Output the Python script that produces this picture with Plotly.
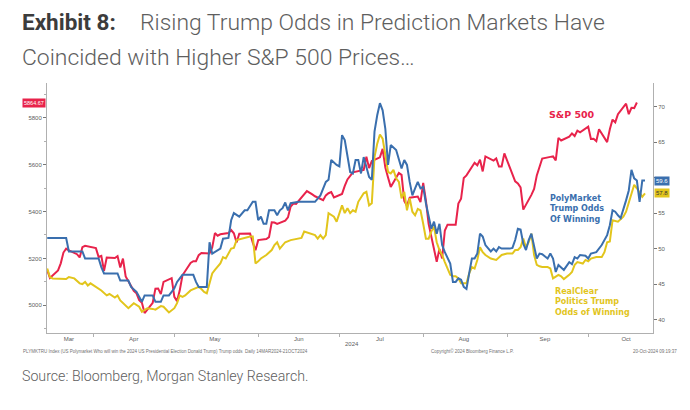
import plotly.graph_objects as go
import pandas as pd

# ---------------- data ----------------
sp_dates = [
    "2024-03-14","2024-03-15","2024-03-18","2024-03-19","2024-03-20","2024-03-21","2024-03-22","2024-03-25","2024-03-26","2024-03-27","2024-03-28",
    "2024-04-01","2024-04-02","2024-04-03","2024-04-04","2024-04-05","2024-04-08","2024-04-09","2024-04-10","2024-04-11","2024-04-12",
    "2024-04-15","2024-04-16","2024-04-17","2024-04-18","2024-04-19","2024-04-22","2024-04-23","2024-04-24","2024-04-25","2024-04-26",
    "2024-04-29","2024-04-30","2024-05-01","2024-05-02","2024-05-03","2024-05-06","2024-05-07","2024-05-08","2024-05-09","2024-05-10",
    "2024-05-13","2024-05-14","2024-05-15","2024-05-16","2024-05-17","2024-05-20","2024-05-21","2024-05-22","2024-05-23","2024-05-24",
    "2024-05-28","2024-05-29","2024-05-30","2024-05-31","2024-06-03","2024-06-04","2024-06-05","2024-06-06","2024-06-07",
    "2024-06-10","2024-06-11","2024-06-12","2024-06-13","2024-06-14","2024-06-17","2024-06-18","2024-06-20","2024-06-21",
    "2024-06-24","2024-06-25","2024-06-26","2024-06-27","2024-06-28","2024-07-01","2024-07-02","2024-07-03","2024-07-05",
    "2024-07-08","2024-07-09","2024-07-10","2024-07-11","2024-07-12","2024-07-15","2024-07-16","2024-07-17","2024-07-18","2024-07-19",
    "2024-07-22","2024-07-23","2024-07-24","2024-07-25","2024-07-26","2024-07-29","2024-07-30","2024-07-31","2024-08-01","2024-08-02",
    "2024-08-05","2024-08-06","2024-08-07","2024-08-08","2024-08-09","2024-08-12","2024-08-13","2024-08-14","2024-08-15","2024-08-16",
    "2024-08-19","2024-08-20","2024-08-21","2024-08-22","2024-08-23","2024-08-26","2024-08-27","2024-08-28","2024-08-29","2024-08-30",
    "2024-09-03","2024-09-04","2024-09-05","2024-09-06","2024-09-09","2024-09-10","2024-09-11","2024-09-12","2024-09-13",
    "2024-09-16","2024-09-17","2024-09-18","2024-09-19","2024-09-20","2024-09-23","2024-09-24","2024-09-25","2024-09-26","2024-09-27",
    "2024-09-30","2024-10-01","2024-10-02","2024-10-03","2024-10-04","2024-10-07","2024-10-08","2024-10-09","2024-10-10","2024-10-11",
    "2024-10-14","2024-10-15","2024-10-16","2024-10-17","2024-10-18",
]
sp_values = [
    5150, 5117, 5149, 5179, 5225, 5242, 5234, 5218, 5204, 5248, 5254,
    5244, 5206, 5211, 5147, 5204, 5202, 5210, 5161, 5199, 5123,
    5062, 5051, 5022, 5011, 4967, 5011, 5071, 5072, 5048, 5100,
    5116, 5036, 5018, 5064, 5128, 5181, 5188, 5188, 5214, 5223,
    5221, 5247, 5308, 5297, 5303, 5308, 5321, 5307, 5268, 5305,
    5306, 5267, 5235, 5278, 5283, 5291, 5354, 5353, 5347,
    5361, 5375, 5421, 5434, 5432, 5473, 5487, 5473, 5465,
    5448, 5469, 5478, 5483, 5460, 5475, 5509, 5537, 5567,
    5573, 5577, 5634, 5585, 5615, 5631, 5667, 5588, 5545, 5505,
    5564, 5556, 5445, 5425, 5459, 5464, 5440, 5522, 5447, 5347,
    5186, 5240, 5200, 5319, 5344, 5344, 5434, 5455, 5543, 5554,
    5608, 5597, 5621, 5571, 5635, 5617, 5626, 5592, 5592, 5648,
    5529, 5520, 5503, 5408, 5471, 5496, 5554, 5596, 5626,
    5633, 5635, 5618, 5714, 5703, 5719, 5733, 5722, 5745, 5738,
    5762, 5709, 5710, 5700, 5751, 5696, 5751, 5792, 5780, 5815,
    5860, 5815, 5842, 5841, 5864.67,
]

poly_dates = [
    "2024-03-14","2024-03-21","2024-03-22","2024-03-27","2024-03-28","2024-04-02","2024-04-03","2024-04-04","2024-04-09","2024-04-10",
    "2024-04-13","2024-04-14","2024-04-16","2024-04-18","2024-04-19","2024-04-22","2024-04-23","2024-04-25","2024-04-26","2024-04-28",
    "2024-04-30","2024-05-01","2024-05-03","2024-05-07","2024-05-08","2024-05-09","2024-05-12","2024-05-13","2024-05-14","2024-05-17",
    "2024-05-18","2024-05-20","2024-05-21","2024-05-22","2024-05-24","2024-05-26","2024-05-27","2024-05-29","2024-05-30","2024-05-31",
    "2024-06-01","2024-06-02","2024-06-03","2024-06-04","2024-06-06","2024-06-07","2024-06-08","2024-06-09","2024-06-10","2024-06-11",
    "2024-06-12","2024-06-15","2024-06-21","2024-06-23","2024-06-25","2024-06-26","2024-06-27","2024-06-29","2024-06-30","2024-07-01",
    "2024-07-02","2024-07-03","2024-07-04","2024-07-05","2024-07-06","2024-07-07","2024-07-08","2024-07-09","2024-07-10","2024-07-11",
    "2024-07-12","2024-07-13","2024-07-14","2024-07-15","2024-07-16","2024-07-17","2024-07-18","2024-07-19","2024-07-21","2024-07-22",
    "2024-07-23","2024-07-24","2024-07-25","2024-07-26","2024-07-27","2024-07-28","2024-07-29","2024-07-30","2024-07-31","2024-08-01",
    "2024-08-02","2024-08-03","2024-08-04","2024-08-05","2024-08-06","2024-08-07","2024-08-08","2024-08-09","2024-08-10","2024-08-11",
    "2024-08-12","2024-08-13","2024-08-14","2024-08-15","2024-08-16","2024-08-17","2024-08-18","2024-08-19","2024-08-20","2024-08-21",
    "2024-08-22","2024-08-23","2024-08-25","2024-08-26","2024-08-27","2024-08-28","2024-08-29","2024-09-01","2024-09-02","2024-09-03",
    "2024-09-04","2024-09-05","2024-09-06","2024-09-07","2024-09-08","2024-09-09","2024-09-10","2024-09-11","2024-09-12","2024-09-13",
    "2024-09-15","2024-09-16","2024-09-17","2024-09-18","2024-09-19","2024-09-20","2024-09-21","2024-09-23","2024-09-24","2024-09-25",
    "2024-09-26","2024-09-27","2024-09-29","2024-09-30","2024-10-01","2024-10-03","2024-10-05","2024-10-07","2024-10-08","2024-10-09",
    "2024-10-10","2024-10-11","2024-10-12","2024-10-14","2024-10-15","2024-10-16","2024-10-17","2024-10-18","2024-10-19","2024-10-20",
    "2024-10-21",
]
poly_values = [
    51.5, 51.5, 49.6, 49.6, 48.6, 48.6, 47.4, 46.5, 46.5, 45.5,
    45.5, 44.6, 43.9, 42.5, 43.4, 43.4, 42.5, 42.5, 43.4, 43.4,
    44.4, 45.3, 46.3, 46.3, 45.3, 44.6, 44.6, 50.9, 49.3, 50.0,
    51.4, 51.5, 54.0, 55.0, 54.5, 55.4, 55.4, 56.6, 56.6, 54.0,
    54.5, 53.5, 53.5, 55.4, 55.4, 54.7, 55.4, 55.7, 56.5, 55.4,
    56.4, 56.6, 56.6, 57.5, 59.4, 59.7, 62.5, 61.8, 61.6, 66.0,
    65.3, 62.9, 60.8, 60.6, 62.5, 62.5, 60.6, 62.9, 61.3, 60.1,
    59.7, 66.5, 68.8, 70.5, 69.5, 66.9, 61.8, 64.6, 63.9, 62.7,
    61.3, 62.5, 61.8, 59.4, 57.5, 58.5, 59.4, 58.5, 58.7, 56.4,
    54.5, 52.8, 53.8, 52.1, 53.5, 50.5, 49.5, 48.8, 47.9, 45.3,
    45.3, 45.8, 45.6, 44.6, 44.3, 46.5, 48.6, 48.6, 49.3, 52.1,
    51.7, 50.5, 49.6, 50.0, 49.6, 50.2, 50.0, 50.0, 50.1, 51.2,
    52.8, 52.7, 50.7, 49.8, 51.2, 52.1, 50.2, 48.6, 49.3, 49.2,
    48.6, 49.3, 48.6, 46.7, 47.7, 47.4, 47.0, 48.1, 47.8, 48.8,
    48.6, 49.1, 49.0, 48.6, 49.3, 49.5, 50.5, 51.9, 53.3, 55.4,
    55.2, 54.7, 54.3, 56.8, 58.2, 61.1, 59.9, 59.6, 56.6, 59.6,
    59.6,
]

rcp_dates = [
    "2024-03-14","2024-03-15","2024-03-16","2024-03-19","2024-03-21","2024-03-22","2024-03-24","2024-03-26","2024-03-27","2024-03-28",
    "2024-03-29","2024-03-30","2024-04-01","2024-04-03","2024-04-05","2024-04-06","2024-04-08","2024-04-09","2024-04-10","2024-04-12",
    "2024-04-13","2024-04-15","2024-04-16","2024-04-17","2024-04-18","2024-04-20","2024-04-22","2024-04-23","2024-04-25","2024-04-26",
    "2024-04-28","2024-04-30","2024-05-01","2024-05-02","2024-05-03","2024-05-04","2024-05-06","2024-05-07","2024-05-09","2024-05-10",
    "2024-05-11","2024-05-12","2024-05-14","2024-05-15","2024-05-17","2024-05-18","2024-05-19","2024-05-21","2024-05-22","2024-05-23",
    "2024-05-25","2024-05-26","2024-05-28","2024-05-29","2024-05-30","2024-05-31","2024-06-01","2024-06-03","2024-06-05","2024-06-06",
    "2024-06-07","2024-06-08","2024-06-10","2024-06-12","2024-06-14","2024-06-16","2024-06-17","2024-06-19","2024-06-21","2024-06-22",
    "2024-06-23","2024-06-24","2024-06-25","2024-06-26","2024-06-28","2024-06-29","2024-07-01","2024-07-02","2024-07-03","2024-07-04",
    "2024-07-05","2024-07-06","2024-07-07","2024-07-09","2024-07-10","2024-07-11","2024-07-12","2024-07-13","2024-07-14","2024-07-15",
    "2024-07-16","2024-07-17","2024-07-18","2024-07-19","2024-07-20","2024-07-21","2024-07-22","2024-07-23","2024-07-24","2024-07-25",
    "2024-07-26","2024-07-27","2024-07-28","2024-07-29","2024-07-30","2024-07-31","2024-08-01","2024-08-02","2024-08-03","2024-08-04",
    "2024-08-05","2024-08-06","2024-08-07","2024-08-08","2024-08-10","2024-08-11","2024-08-12","2024-08-13","2024-08-14","2024-08-16",
    "2024-08-17","2024-08-18","2024-08-19","2024-08-20","2024-08-21","2024-08-22","2024-08-23","2024-08-25","2024-08-27","2024-08-29",
    "2024-08-31","2024-09-02","2024-09-03","2024-09-04","2024-09-05","2024-09-06","2024-09-07","2024-09-08","2024-09-09","2024-09-10",
    "2024-09-11","2024-09-12","2024-09-13","2024-09-15","2024-09-16","2024-09-17","2024-09-19","2024-09-20","2024-09-21","2024-09-23",
    "2024-09-24","2024-09-25","2024-09-26","2024-09-28","2024-09-29","2024-09-30","2024-10-01","2024-10-03","2024-10-05","2024-10-06",
    "2024-10-07","2024-10-08","2024-10-09","2024-10-11","2024-10-13","2024-10-14","2024-10-16","2024-10-17","2024-10-18","2024-10-19",
    "2024-10-20","2024-10-21",
]
rcp_values = [
    47.2, 46.0, 45.8, 45.8, 45.7, 46.0, 45.8, 45.1, 45.0, 45.3,
    44.8, 45.1, 44.6, 44.1, 43.4, 43.6, 43.1, 43.4, 42.7, 42.0,
    41.6, 42.3, 42.0, 41.8, 41.1, 41.6, 41.5, 41.4, 41.9, 41.8,
    41.0, 41.6, 42.3, 43.4, 43.2, 43.4, 44.1, 44.3, 44.6, 44.3,
    43.9, 43.7, 46.5, 47.0, 47.9, 48.8, 48.6, 50.0, 50.1, 51.2,
    51.4, 51.6, 51.7, 51.7, 47.9, 48.2, 48.6, 49.1, 49.8, 50.5,
    50.9, 50.0, 50.9, 51.2, 51.4, 51.5, 52.4, 52.2, 51.9, 51.4,
    51.9, 51.4, 51.9, 55.0, 54.5, 53.8, 56.1, 55.0, 55.7, 55.0,
    55.4, 55.2, 56.6, 57.8, 58.0, 56.1, 56.4, 62.9, 64.8, 66.1,
    65.5, 63.2, 60.8, 60.6, 61.1, 59.9, 59.4, 57.1, 58.0, 55.4,
    57.1, 55.2, 54.7, 55.6, 55.4, 53.5, 51.4, 51.4, 52.4, 53.1,
    50.9, 49.8, 49.1, 48.1, 46.3, 46.1, 46.1, 45.8, 45.1, 45.1,
    46.5, 47.4, 47.2, 48.4, 50.2, 49.5, 49.1, 48.6, 48.4, 49.1,
    49.3, 49.3, 49.8, 49.8, 50.2, 51.4, 50.2, 50.9, 52.1, 49.1,
    47.7, 47.5, 47.4, 47.4, 47.2, 45.8, 46.3, 46.1, 45.7, 46.3,
    46.7, 47.7, 48.1, 47.9, 48.4, 48.2, 48.6, 48.8, 48.8, 49.5,
    50.9, 51.0, 54.0, 53.8, 54.5, 55.2, 58.0, 59.0, 58.5, 57.8,
    57.3, 57.8,
]

month_labels = ["Mar", "Apr", "May", "Jun", "Jul", "Aug", "Sep", "Oct"]
month_label_dates = ["2024-03-22", "2024-04-15", "2024-05-15", "2024-06-15",
                     "2024-07-15", "2024-08-15", "2024-09-14", "2024-10-14"]
month_starts = ["2024-04-01", "2024-05-01", "2024-06-01", "2024-07-01",
                "2024-08-01", "2024-09-01", "2024-10-01"]
left_ticks = [5000, 5200, 5400, 5600, 5800]
left_minor = [4900, 5100, 5300, 5500, 5700, 5900]
right_ticks = [40, 45, 50, 55, 60, 65, 70]
# the 60 label sits behind the PolyMarket last-value tag in the reference
right_ticktext = ["40", "45", "50", "55", "", "65", "70"]

# ---------------- style ----------------
RED = "#e8234b"
BLUE = "#3a6fae"
YELLOW = "#e2c51c"
AXIS = "#b0b0b0"
TICKTXT = "#606060"

L, R, T, B = 47, 37, 83, 77
W, H = 690, 410
PW, PH = W - L - R, H - T - B


def px(xp):
    return (xp - L) / PW


def py(yp):
    return (H - B - yp) / PH


boundary_ticks = [pd.Timestamp(d) - pd.Timedelta(hours=20) for d in month_starts]

fig = go.Figure()
fig.add_trace(go.Scatter(x=rcp_dates, y=rcp_values, yaxis="y2", mode="lines",
                         line=dict(color=YELLOW, width=2), name="RealClear"))
fig.add_trace(go.Scatter(x=poly_dates, y=poly_values, yaxis="y2", mode="lines",
                         line=dict(color=BLUE, width=2), name="PolyMarket"))
fig.add_trace(go.Scatter(x=sp_dates, y=sp_values, yaxis="y", mode="lines",
                         line=dict(color=RED, width=2), name="S&P 500"))

fig.update_layout(
    width=W, height=H, autosize=False,
    margin=dict(l=L, r=R, t=T, b=B, pad=0),
    paper_bgcolor="white", plot_bgcolor="white",
    showlegend=False,
    font=dict(family="Liberation Sans, Arial, sans-serif", color=TICKTXT),
    xaxis=dict(
        type="date",
        range=["2024-03-13 22:00", "2024-10-23 23:00"],
        tickmode="array", tickvals=month_label_dates, ticktext=month_labels,
        ticks="", tickfont=dict(size=6, color=TICKTXT),
        showline=True, linecolor=AXIS, linewidth=1,
        showgrid=False, zeroline=False,
        minor=dict(tickmode="array", tickvals=boundary_ticks, ticks="outside",
                   ticklen=3, tickcolor=AXIS, showgrid=False),
    ),
    yaxis=dict(
        range=[4882, 5948],
        tickmode="array", tickvals=left_ticks, ticks="outside", ticklen=3,
        tickcolor="#777", tickfont=dict(size=6, color=TICKTXT),
        showline=True, linecolor=AXIS, linewidth=1,
        showgrid=False, zeroline=False,
        minor=dict(tickmode="array", tickvals=left_minor, ticks="outside",
                   ticklen=2, tickcolor=AXIS, showgrid=False),
    ),
    yaxis2=dict(
        range=[38.1, 73.35], overlaying="y", side="right",
        tickmode="array", tickvals=right_ticks, ticktext=right_ticktext,
        ticks="outside", ticklen=3,
        tickcolor="#777", tickfont=dict(size=6, color=TICKTXT),
        showline=True, linecolor=AXIS, linewidth=1,
        showgrid=False, zeroline=False,
    ),
)

ann = []
# titles
ann.append(dict(text="<b>Exhibit 8:</b>", x=px(20), y=py(22), xanchor="left", yanchor="middle",
                font=dict(family="Roboto", size=22.5, color="#3c3c3c")))
ann.append(dict(text="Rising Trump Odds in Prediction Markets Have", x=px(138), y=py(22),
                xanchor="left", yanchor="middle",
                font=dict(family="Roboto", size=22.9, color="#5e5e5e", weight=300)))
ann.append(dict(text="Coincided with Higher S&P 500 Prices…", x=px(20), y=py(58),
                xanchor="left", yanchor="middle",
                font=dict(family="Roboto", size=22.9, color="#5e5e5e", weight=300)))
ann.append(dict(text="Source: Bloomberg, Morgan Stanley Research.", x=px(20), y=py(376),
                xanchor="left", yanchor="middle",
                font=dict(family="Roboto", size=14.2, color="#5e5e5e", weight=300)))
# series labels
ann.append(dict(text="<b>S&P 500</b>", x=px(572), y=py(114), xanchor="center", yanchor="middle",
                font=dict(family="DejaVu Sans", size=9.5, color=RED)))
ann.append(dict(text="<b>PolyMarket<br>Trump Odds<br>Of Winning</b>", x=px(548), y=py(209),
                xanchor="left", yanchor="middle", align="left",
                font=dict(family="DejaVu Sans", size=8, color=BLUE)))
ann.append(dict(text="<b>RealClear<br>Politics Trump<br>Odds of Winning</b>", x=px(553), y=py(302),
                xanchor="left", yanchor="middle", align="left",
                font=dict(family="DejaVu Sans", size=8, color=YELLOW)))
# last-value tags
ann.append(dict(text=f"{sp_values[-1]:.2f}", x=px(46), y=sp_values[-1], yref="y",
                xanchor="right", yanchor="middle", bgcolor=RED, borderpad=1,
                font=dict(size=5.5, color="white")))
ann.append(dict(text=f"{poly_values[-1]:.1f}", x=px(654), y=poly_values[-1], yref="y2",
                xanchor="left", yanchor="middle", bgcolor=BLUE, borderpad=1,
                font=dict(size=6, color="white")))
ann.append(dict(text=f"{rcp_values[-1]:.1f}", x=px(654), y=rcp_values[-1], yref="y2",
                xanchor="left", yanchor="middle", bgcolor=YELLOW, borderpad=1,
                font=dict(size=6, color="#333333")))
# axis footer
ann.append(dict(text="2024", x=px(352), y=py(344), xanchor="center", yanchor="middle",
                font=dict(size=6, color=TICKTXT)))
ann.append(dict(text="PLYMKTRU Index (US Polymarket Who will win the 2024 US Presidential Election Donald Trump) Trump odds  Daily 14MAR2024-21OCT2024",
                x=px(21), y=py(351), xanchor="left", yanchor="middle",
                font=dict(size=4.5, color="#707070")))
ann.append(dict(text="Copyright© 2024 Bloomberg Finance L.P.", x=px(429), y=py(351),
                xanchor="left", yanchor="middle", font=dict(size=4.5, color="#707070")))
ann.append(dict(text="20-Oct-2024 09:19:37", x=px(679), y=py(351),
                xanchor="right", yanchor="middle", font=dict(size=4.5, color="#707070")))

for a in ann:
    a.setdefault("xref", "paper")
    a.setdefault("yref", "paper")
    a["showarrow"] = False
fig.update_layout(annotations=ann)

fig.write_html("out.html")
